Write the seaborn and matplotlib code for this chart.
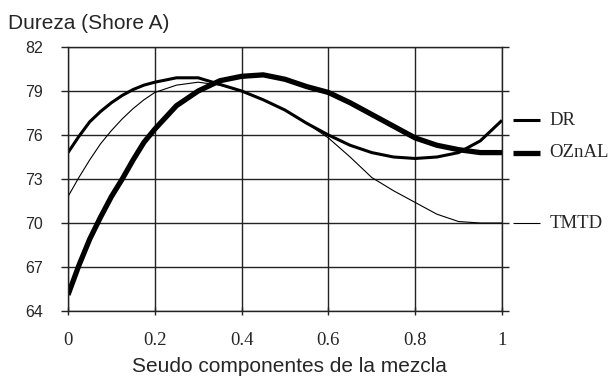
import matplotlib
matplotlib.use("Agg")
import matplotlib.pyplot as plt
import seaborn as sns
import pandas as pd

# ---- data ----
x_pts = [0, 0.025, 0.05, 0.075, 0.1, 0.125, 0.15, 0.175, 0.2, 0.25, 0.3, 0.35,
         0.4, 0.45, 0.5, 0.55, 0.6, 0.65, 0.7, 0.75, 0.8, 0.85, 0.9, 0.95, 1.0]
dr = [74.8, 75.9, 76.9, 77.6, 78.2, 78.7, 79.1, 79.4, 79.6, 79.9, 79.9, 79.45,
      79.0, 78.4, 77.7, 76.8, 76.0, 75.3, 74.8, 74.5, 74.4, 74.5, 74.8, 75.6, 77.0]
oznal = [65.1, 67.1, 68.9, 70.4, 71.8, 73.0, 74.3, 75.5, 76.4, 78.0, 79.0, 79.7,
         80.0, 80.1, 79.8, 79.3, 78.9, 78.2, 77.4, 76.6, 75.8, 75.3, 75.0, 74.8, 74.8]
tmtd = [71.8, 73.1, 74.3, 75.4, 76.3, 77.1, 77.8, 78.4, 78.9, 79.4, 79.6, 79.4,
        79.0, 78.4, 77.7, 76.8, 75.8, 74.5, 73.1, 72.2, 71.4, 70.6, 70.1, 70.0, 70.0]
series_names = ["DR", "OZnAL", "TMTD"]
y_ticks = [64, 67, 70, 73, 76, 79, 82]
x_ticks = [0, 0.2, 0.4, 0.6, 0.8, 1]
x_tick_labels = ["0", "0.2", "0.4", "0.6", "0.8", "1"]
title_text = "Dureza (Shore A)"
xlabel_text = "Seudo componentes de la mezcla"

sns.set_style("white")
plt.rcParams["font.family"] = ["Liberation Sans", "DejaVu Sans"]

W, H = 611, 377
fig = plt.figure(figsize=(W / 100, H / 100), dpi=100)
ax = fig.add_axes([68 / W, 1 - 311 / H, (502 - 68) / W, (311 - 47) / H])

values = {"DR": dr, "OZnAL": oznal, "TMTD": tmtd}
widths = {"DR": 2.2, "OZnAL": 3.8, "TMTD": 0.8}
for name in series_names:
    df = pd.DataFrame({"x": x_pts, "y": values[name]})
    sns.lineplot(data=df, x="x", y="y", ax=ax, color="black",
                 linewidth=widths[name], estimator=None, sort=False,
                 solid_capstyle="butt", solid_joinstyle="round")

ax.set_xlim(0, 1)
ax.set_ylim(64, 82)
ax.set_xticks(x_ticks)
ax.set_xticklabels(x_tick_labels, fontfamily="Liberation Serif", fontsize=13.5)
ax.set_yticks(y_ticks)
ax.set_yticklabels([str(v) for v in y_ticks], fontsize=11.5)
ax.set_xlabel("")
ax.set_ylabel("")
ax.grid(True, color="#222222", linewidth=1.0)
for s in ["left", "bottom", "right", "top"]:
    ax.spines[s].set_visible(True)
    ax.spines[s].set_color("#222222")
    ax.spines[s].set_linewidth(1.0)
ax.tick_params(axis="y", which="both", left=True, right=True, direction="out",
               length=5, width=1.0, color="#222222", pad=13)
ax.tick_params(axis="x", which="both", bottom=True, direction="inout",
               length=6, width=1.0, color="#222222", pad=12)

# labels at the right, at each series' end value
for name in series_names:
    yv = values[name][-1]
    ax.plot([1.025, 1.088], [yv, yv], color="black", linewidth=widths[name],
            clip_on=False, solid_capstyle="butt")
    ax.text(1.11, yv, name, transform=ax.get_yaxis_transform(), va="center",
            ha="left", fontsize=13.5, fontfamily="Liberation Serif")

fig.text(8 / W, 1 - 29 / H, title_text, fontsize=15, ha="left", va="baseline")
fig.text(289 / W, 1 - 367 / H, xlabel_text, fontsize=15, ha="center", va="center")

fig.savefig("out.png", dpi=100)
